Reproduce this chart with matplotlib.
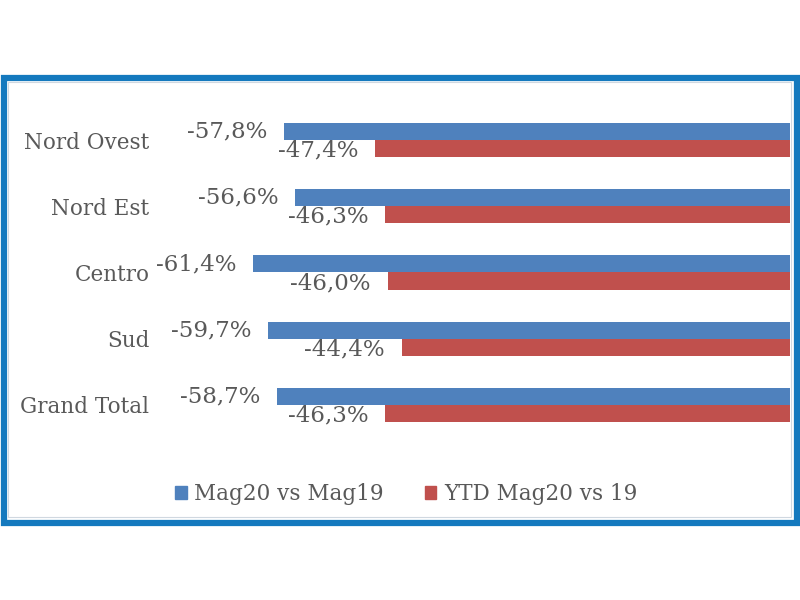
import matplotlib
matplotlib.use("Agg")
import matplotlib.pyplot as plt
from matplotlib.patches import Rectangle, Patch

categories = ["Nord Ovest", "Nord Est", "Centro", "Sud", "Grand Total"]
mag20_vs_mag19 = [-57.8, -56.6, -61.4, -59.7, -58.7]
ytd_mag20_vs_19 = [-47.4, -46.3, -46.0, -44.4, -46.3]
series_names = ["Mag20 vs Mag19", "YTD Mag20 vs 19"]

BLUE = "#4F81BD"
RED = "#C0504D"
TXT = "#595959"
FONT = "DejaVu Serif"

fig = plt.figure(figsize=(8, 6), dpi=100)
fig.patch.set_facecolor("white")

# frame
W, H = 800, 600
frame = Rectangle((3.5 / W, 1 - 522.5 / H), (796.5 - 3.5) / W, (522.5 - 77.5) / H,
                  transform=fig.transFigure, fill=False, edgecolor="#1479BE",
                  linewidth=4.5, zorder=0)
fig.patches.append(frame)
inner = Rectangle((8 / W, 1 - 517 / H), (791 - 8) / W, (517 - 82) / H,
                  transform=fig.transFigure, fill=False, edgecolor="#D0D8E0",
                  linewidth=0.8, zorder=0)
fig.patches.append(inner)

ax = fig.add_axes([155 / W, 1 - 438 / H, (790 - 155) / W, (438 - 107) / H])
ax.set_facecolor("none")
h = 0.257
ypos = list(range(len(categories)))
ax.barh([y - h / 2 for y in ypos], mag20_vs_mag19, height=h, color=BLUE)
ax.barh([y + h / 2 for y in ypos], ytd_mag20_vs_19, height=h, color=RED)
ax.set_xlim(-72.6, 0)
ax.set_ylim(len(categories) - 0.5, -0.5)

LBL = 16.5
for y, v in zip(ypos, mag20_vs_mag19):
    ax.annotate(f"{v:.1f}%".replace(".", ","), (v, y - h / 2), xytext=(-12, 0),
                textcoords="offset points", ha="right", va="center",
                fontsize=LBL, color=TXT, family=FONT)
for y, v in zip(ypos, ytd_mag20_vs_19):
    ax.annotate(f"{v:.1f}%".replace(".", ","), (v, y + h / 2), xytext=(-12, -1.5),
                textcoords="offset points", ha="right", va="center",
                fontsize=LBL, color=TXT, family=FONT)

ax.set_yticks(ypos)
ax.set_yticklabels(categories, fontsize=15.5, color=TXT, family=FONT)
ax.tick_params(axis="y", length=0, pad=4)
ax.set_xticks([])
for s in ax.spines.values():
    s.set_visible(False)

handles = [Patch(color=BLUE), Patch(color=RED)]
leg = fig.legend(handles, series_names, loc="center", ncol=2,
                 bbox_to_anchor=(406 / W, 1 - 494 / H), frameon=False,
                 handlelength=0.55, handleheight=0.55, handletextpad=0.35,
                 columnspacing=1.9, prop={"family": FONT, "size": 15.5})
for t in leg.get_texts():
    t.set_color(TXT)

fig.savefig("out.png", dpi=100)
